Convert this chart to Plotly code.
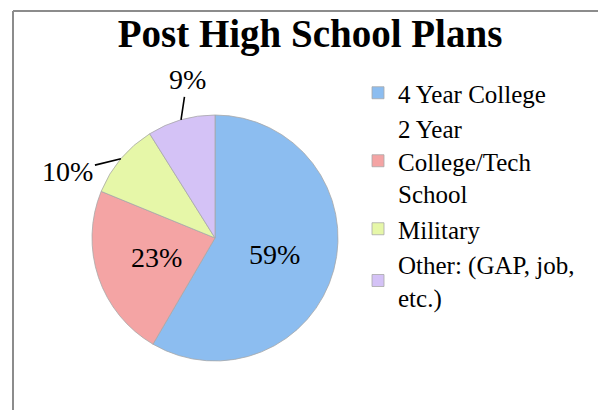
import math
import plotly.graph_objects as go

# ---- data ----
labels = ["4 Year College", "2 Year<br>College/Tech<br>School", "Military", "Other: (GAP, job,<br>etc.)"]
values = [59, 23, 10, 9]
title_text = "Post High School Plans"

# ---- style ----
colors = ["#8CBDF0", "#F4A4A4", "#E6F7A8", "#D4C2F6"]
label_mode = ["inside", "inside", "outside", "outside"]
W, H = 606, 410
OFF = 8                              # page body margin of the browser
CX, CY, R = 215 - OFF, 238 - OFF, 123
FONT = "Liberation Serif"
INSIDE_R = 0.5                       # radial position of inside labels
# pixel offsets of outside labels from their leader-line tip
label_offsets = {2: (-53, 13), 3: (6, -40)}

fig = go.Figure(go.Pie(
    labels=labels,
    values=values,
    sort=False,
    direction="clockwise",
    rotation=0,
    marker=dict(colors=colors, line=dict(color="#A8A8A8", width=0.8)),
    textinfo="none",
    hoverinfo="label+percent",
    domain=dict(x=[(CX - R) / W, (CX + R) / W], y=[(H - CY - R) / H, (H - CY + R) / H]),
))

# slice labels positioned from the data angles
total = sum(values)
annotations = []
start = 90.0
for i, v in enumerate(values):
    span = 360.0 * v / total
    mid = math.radians(start - span / 2)
    start -= span
    font = dict(family=FONT, size=28, color="black")
    if label_mode[i] == "inside":
        px = CX + INSIDE_R * R * math.cos(mid)
        py = CY - INSIDE_R * R * math.sin(mid)
        annotations.append(dict(x=px / W, y=1 - py / H, xref="paper", yref="paper",
                                text=f"{v}%", showarrow=False, font=font,
                                xanchor="center", yanchor="middle"))
    else:
        px = CX + R * math.cos(mid)
        py = CY - R * math.sin(mid)
        ax, ay = label_offsets[i]
        annotations.append(dict(
            x=px / W, y=1 - py / H, xref="paper", yref="paper",
            text=f"{v}%", showarrow=True, arrowhead=0, arrowwidth=1.6,
            arrowcolor="black", ax=ax, ay=ay, standoff=0, font=font,
        ))

bx, by = 13 - OFF, 11 - OFF
fig.update_layout(
    width=W, height=H, autosize=False,
    margin=dict(l=0, r=0, t=0, b=0),
    paper_bgcolor="white", plot_bgcolor="white",
    title=dict(text=f"<b>{title_text}</b>", x=(310 - OFF) / W, xanchor="center",
               y=1 - (33 - OFF) / H, yanchor="middle",
               font=dict(family=FONT, size=39, color="black")),
    legend=dict(x=(358 - OFF) / W, xanchor="left", y=1 - (70 - OFF) / H, yanchor="top",
                font=dict(family=FONT, size=25, color="black"),
                bgcolor="rgba(0,0,0,0)", tracegroupgap=0),
    annotations=annotations,
    shapes=[
        dict(type="line", xref="paper", yref="paper", x0=bx / W, x1=1, y0=1 - by / H, y1=1 - by / H,
             line=dict(color="#8C8C8C", width=2)),
        dict(type="line", xref="paper", yref="paper", x0=bx / W, x1=bx / W, y0=0, y1=1 - by / H,
             line=dict(color="#8C8C8C", width=2)),
    ],
)

fig.write_html("out.html")
